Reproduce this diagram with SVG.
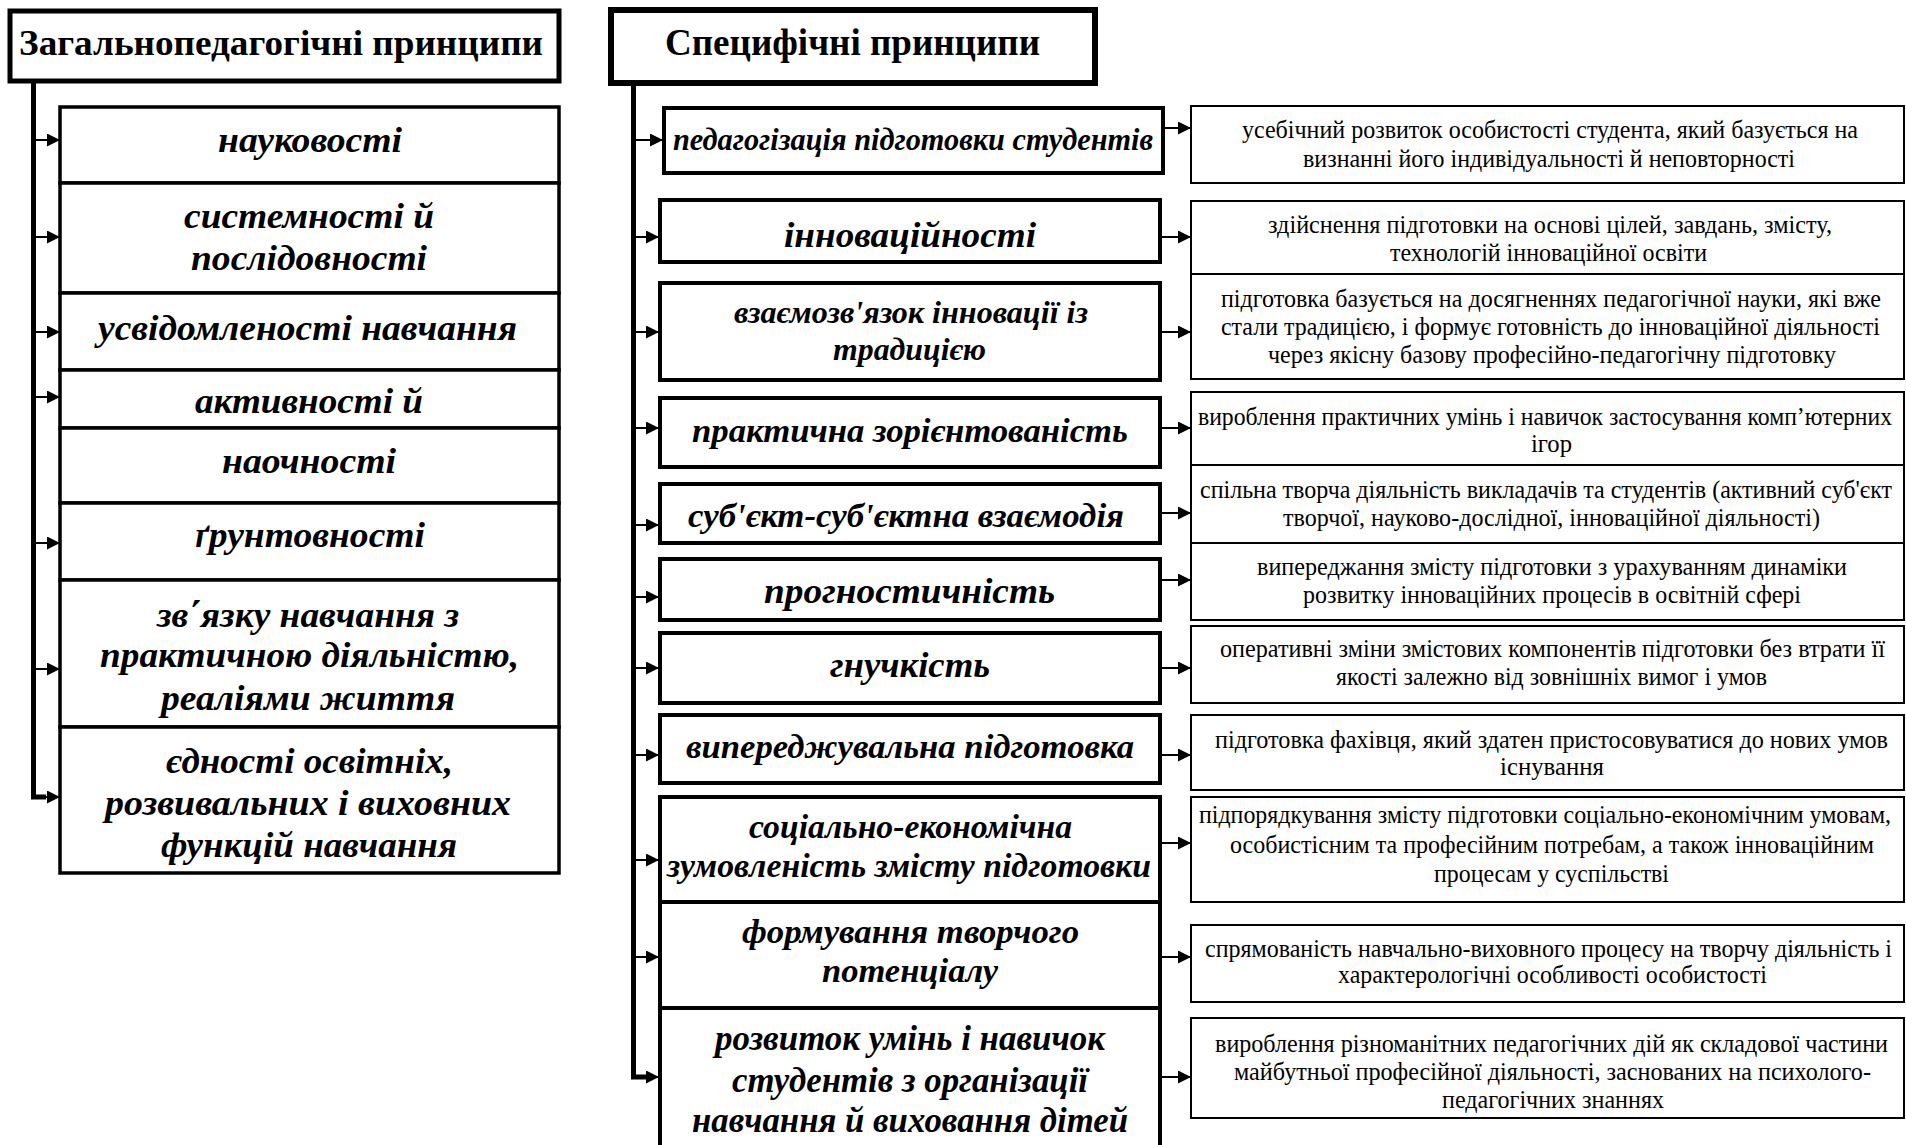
<svg xmlns="http://www.w3.org/2000/svg" width="1906" height="1145" viewBox="0 0 1906 1145">
<defs>
<marker id="ah" viewBox="0 0 10 10" refX="10" refY="5" markerWidth="15" markerHeight="13" markerUnits="userSpaceOnUse" orient="auto">
<path d="M0,0 L10,5 L0,10 z" fill="#000"/>
</marker>
</defs>
<style>
text{font-family:'Liberation Serif','DejaVu Serif',serif;fill:#000}
.h{font-weight:bold;font-size:36px}
.p{font-weight:bold;font-style:italic;font-size:36px}
.d{font-size:25px}
.hb{fill:#fff;stroke:#000;stroke-width:5}
.lb{fill:#fff;stroke:#000;stroke-width:3.5}
.mb{fill:#fff;stroke:#000;stroke-width:4}
.rb{fill:#fff;stroke:#000;stroke-width:2}
.trunk{fill:none;stroke:#000;stroke-width:5}
.arr{fill:none;stroke:#000;stroke-width:2;marker-end:url(#ah)}
</style>
<rect width="1906" height="1145" fill="#fff"/>

<g id="connectors">
<path class="trunk" d="M33.5,82 V797 H46"/>
<path class="trunk" d="M633.5,84 V1077 H646"/>
<line class="arr" x1="33" y1="140" x2="60" y2="140"/>
<line class="arr" x1="33" y1="237" x2="60" y2="237"/>
<line class="arr" x1="33" y1="332" x2="60" y2="332"/>
<line class="arr" x1="33" y1="397" x2="60" y2="397"/>
<line class="arr" x1="33" y1="543" x2="60" y2="543"/>
<line class="arr" x1="33" y1="669" x2="60" y2="669"/>
<line class="arr" x1="33" y1="797" x2="60" y2="797"/>
<line class="arr" x1="633" y1="140" x2="663" y2="140"/>
<line class="arr" x1="633" y1="237" x2="659" y2="237"/>
<line class="arr" x1="633" y1="332" x2="659" y2="332"/>
<line class="arr" x1="633" y1="428" x2="659" y2="428"/>
<line class="arr" x1="633" y1="525" x2="659" y2="525"/>
<line class="arr" x1="633" y1="597" x2="659" y2="597"/>
<line class="arr" x1="633" y1="668" x2="659" y2="668"/>
<line class="arr" x1="633" y1="755" x2="659" y2="755"/>
<line class="arr" x1="633" y1="860" x2="659" y2="860"/>
<line class="arr" x1="633" y1="957" x2="659" y2="957"/>
<line class="arr" x1="633" y1="1077" x2="659" y2="1077"/>
<line class="arr" x1="1160" y1="128" x2="1191" y2="128"/>
<line class="arr" x1="1162" y1="237" x2="1191" y2="237"/>
<line class="arr" x1="1162" y1="332" x2="1191" y2="332"/>
<line class="arr" x1="1162" y1="428" x2="1191" y2="428"/>
<line class="arr" x1="1162" y1="513" x2="1191" y2="513"/>
<line class="arr" x1="1162" y1="580" x2="1191" y2="580"/>
<line class="arr" x1="1162" y1="668" x2="1191" y2="668"/>
<line class="arr" x1="1162" y1="755" x2="1191" y2="755"/>
<line class="arr" x1="1162" y1="843" x2="1191" y2="843"/>
<line class="arr" x1="1162" y1="957" x2="1191" y2="957"/>
<line class="arr" x1="1162" y1="1077" x2="1191" y2="1077"/>
</g>

<g id="general-header">
<rect class="hb" x="10" y="11" width="549" height="70"/>
<text class="h" x="19" y="55" textLength="524" lengthAdjust="spacingAndGlyphs">Загальнопедагогічні принципи</text>
</g>

<g id="g1"><rect class="lb" x="60" y="107" width="499" height="76"/>
<text class="p" x="218" y="152" textLength="184" lengthAdjust="spacingAndGlyphs">науковості</text></g>
<g id="g2"><rect class="lb" x="60" y="183" width="499" height="110"/>
<text class="p" x="184" y="228" textLength="250" lengthAdjust="spacingAndGlyphs">системності й</text>
<text class="p" x="191" y="270" textLength="236" lengthAdjust="spacingAndGlyphs">послідовності</text></g>
<g id="g3"><rect class="lb" x="60" y="293" width="499" height="77"/>
<text class="p" x="98" y="340" textLength="419" lengthAdjust="spacingAndGlyphs">усвідомленості навчання</text></g>
<g id="g4"><rect class="lb" x="60" y="370" width="499" height="58"/>
<text class="p" x="195" y="413" textLength="228" lengthAdjust="spacingAndGlyphs">активності й</text></g>
<g id="g5"><rect class="lb" x="60" y="428" width="499" height="75"/>
<text class="p" x="222" y="473" textLength="174" lengthAdjust="spacingAndGlyphs">наочності</text></g>
<g id="g6"><rect class="lb" x="60" y="503" width="499" height="77"/>
<text class="p" x="195" y="547" textLength="230" lengthAdjust="spacingAndGlyphs">ґрунтовності</text></g>
<g id="g7"><rect class="lb" x="60" y="580" width="499" height="147"/>
<text class="p" x="157" y="627" textLength="302" lengthAdjust="spacingAndGlyphs">зв΄язку навчання з</text>
<text class="p" x="100" y="667" textLength="419" lengthAdjust="spacingAndGlyphs">практичною діяльністю,</text>
<text class="p" x="161" y="710" textLength="294" lengthAdjust="spacingAndGlyphs">реаліями життя</text></g>
<g id="g8"><rect class="lb" x="60" y="727" width="499" height="146"/>
<text class="p" x="166" y="773" textLength="287" lengthAdjust="spacingAndGlyphs">єдності освітніх,</text>
<text class="p" x="105" y="815" textLength="406" lengthAdjust="spacingAndGlyphs">розвивальних і виховних</text>
<text class="p" x="161" y="857" textLength="296" lengthAdjust="spacingAndGlyphs">функцій навчання</text></g>

<g id="specific-header">
<rect x="611" y="10" width="484" height="73" fill="#fff" stroke="#000" stroke-width="6"/>
<text class="h" x="665" y="55" style="font-size:38px" textLength="375" lengthAdjust="spacingAndGlyphs">Специфічні принципи</text>
</g>

<g id="s1"><rect class="mb" x="664" y="108" width="499" height="65"/>
<text class="p" x="673" y="150" style="font-size:32px" textLength="480" lengthAdjust="spacingAndGlyphs">педагогізація підготовки студентів</text></g>
<g id="s2"><rect class="mb" x="660" y="200" width="500" height="62"/>
<text class="p" x="784" y="247" textLength="252" lengthAdjust="spacingAndGlyphs">інноваційності</text></g>
<g id="s3"><rect class="mb" x="660" y="283" width="500" height="97"/>
<text class="p" x="734" y="323" style="font-size:31px" textLength="354" lengthAdjust="spacingAndGlyphs">взаємозв'язок інновації із</text>
<text class="p" x="833" y="360" style="font-size:31px" textLength="153" lengthAdjust="spacingAndGlyphs">традицією</text></g>
<g id="s4"><rect class="mb" x="660" y="398" width="500" height="69"/>
<text class="p" x="692" y="442" style="font-size:34px" textLength="436" lengthAdjust="spacingAndGlyphs">практична зорієнтованість</text></g>
<g id="s5"><rect class="mb" x="660" y="484" width="500" height="59"/>
<text class="p" x="688" y="527" style="font-size:34px" textLength="436" lengthAdjust="spacingAndGlyphs">суб'єкт-суб'єктна взаємодія</text></g>
<g id="s6"><rect class="mb" x="660" y="559" width="500" height="61"/>
<text class="p" x="764" y="603" textLength="291" lengthAdjust="spacingAndGlyphs">прогностичність</text></g>
<g id="s7"><rect class="mb" x="660" y="633" width="500" height="70"/>
<text class="p" x="830" y="677" textLength="160" lengthAdjust="spacingAndGlyphs">гнучкість</text></g>
<g id="s8"><rect class="mb" x="660" y="715" width="500" height="68"/>
<text class="p" x="686" y="758" style="font-size:34px" textLength="448" lengthAdjust="spacingAndGlyphs">випереджувальна підготовка</text></g>
<g id="s9"><rect class="mb" x="660" y="797" width="500" height="105"/>
<text class="p" x="749" y="838" style="font-size:34px" textLength="323" lengthAdjust="spacingAndGlyphs">соціально-економічна</text>
<text class="p" x="667" y="877" style="font-size:34px" textLength="484" lengthAdjust="spacingAndGlyphs">зумовленість змісту підготовки</text></g>
<g id="s10"><rect class="mb" x="660" y="902" width="500" height="106"/>
<text class="p" x="742" y="943" style="font-size:34px" textLength="337" lengthAdjust="spacingAndGlyphs">формування творчого</text>
<text class="p" x="822" y="982" style="font-size:34px" textLength="176" lengthAdjust="spacingAndGlyphs">потенціалу</text></g>
<g id="s11"><rect class="mb" x="660" y="1008" width="500" height="160"/>
<text class="p" x="715" y="1050" style="font-size:35px" textLength="390" lengthAdjust="spacingAndGlyphs">розвиток умінь і навичок</text>
<text class="p" x="732" y="1092" style="font-size:35px" textLength="356" lengthAdjust="spacingAndGlyphs">студентів з організації</text>
<text class="p" x="692" y="1132" style="font-size:35px" textLength="436" lengthAdjust="spacingAndGlyphs">навчання й виховання дітей</text></g>

<g id="r1"><rect class="rb" x="1191" y="106" width="713" height="77"/>
<text class="d" x="1242" y="138" textLength="616" lengthAdjust="spacingAndGlyphs">усебічний розвиток особистості студента, який базується на</text>
<text class="d" x="1303" y="167" textLength="492" lengthAdjust="spacingAndGlyphs">визнанні його індивідуальності й неповторності</text></g>
<g id="r2"><rect class="rb" x="1191" y="201" width="713" height="73"/>
<text class="d" x="1268" y="233" textLength="564" lengthAdjust="spacingAndGlyphs">здійснення підготовки на основі цілей, завдань, змісту,</text>
<text class="d" x="1390" y="261" textLength="317" lengthAdjust="spacingAndGlyphs">технологій інноваційної освіти</text></g>
<g id="r3"><rect class="rb" x="1191" y="274" width="713" height="105"/>
<text class="d" x="1221" y="307" textLength="660" lengthAdjust="spacingAndGlyphs">підготовка базується на досягненнях педагогічної науки, які вже</text>
<text class="d" x="1221" y="335" textLength="659" lengthAdjust="spacingAndGlyphs">стали традицією, і формує готовність до інноваційної діяльності</text>
<text class="d" x="1268" y="363" textLength="568" lengthAdjust="spacingAndGlyphs">через якісну базову професійно-педагогічну підготовку</text></g>
<g id="r4"><rect class="rb" x="1191" y="392" width="713" height="73"/>
<text class="d" x="1198" y="425" textLength="694" lengthAdjust="spacingAndGlyphs">вироблення практичних умінь і навичок застосування комп’ютерних</text>
<text class="d" x="1531" y="452" textLength="41" lengthAdjust="spacingAndGlyphs">ігор</text></g>
<g id="r5"><rect class="rb" x="1191" y="465" width="713" height="78"/>
<text class="d" x="1200" y="498" textLength="692" lengthAdjust="spacingAndGlyphs">спільна творча діяльність викладачів та студентів (активний суб'єкт</text>
<text class="d" x="1283" y="526" textLength="537" lengthAdjust="spacingAndGlyphs">творчої, науково-дослідної, інноваційної діяльності)</text></g>
<g id="r6"><rect class="rb" x="1191" y="543" width="713" height="77"/>
<text class="d" x="1257" y="575" textLength="590" lengthAdjust="spacingAndGlyphs">випереджання змісту підготовки з урахуванням динаміки</text>
<text class="d" x="1303" y="603" textLength="498" lengthAdjust="spacingAndGlyphs">розвитку інноваційних процесів в освітній сфері</text></g>
<g id="r7"><rect class="rb" x="1191" y="626" width="713" height="77"/>
<text class="d" x="1220" y="657" textLength="665" lengthAdjust="spacingAndGlyphs">оперативні зміни змістових компонентів підготовки без втрати її</text>
<text class="d" x="1336" y="685" textLength="431" lengthAdjust="spacingAndGlyphs">якості залежно від зовнішніх вимог і умов</text></g>
<g id="r8"><rect class="rb" x="1191" y="715" width="713" height="75"/>
<text class="d" x="1215" y="748" textLength="673" lengthAdjust="spacingAndGlyphs">підготовка фахівця, який здатен пристосовуватися до нових умов</text>
<text class="d" x="1500" y="775" textLength="104" lengthAdjust="spacingAndGlyphs">існування</text></g>
<g id="r9"><rect class="rb" x="1191" y="797" width="713" height="105"/>
<text class="d" x="1199" y="823" textLength="692" lengthAdjust="spacingAndGlyphs">підпорядкування змісту підготовки соціально-економічним умовам,</text>
<text class="d" x="1230" y="853" textLength="644" lengthAdjust="spacingAndGlyphs">особистісним та професійним потребам, а також інноваційним</text>
<text class="d" x="1434" y="882" textLength="235" lengthAdjust="spacingAndGlyphs">процесам у суспільстві</text></g>
<g id="r10"><rect class="rb" x="1191" y="925" width="713" height="77"/>
<text class="d" x="1205" y="957" textLength="687" lengthAdjust="spacingAndGlyphs">спрямованість навчально-виховного процесу на творчу діяльність і</text>
<text class="d" x="1338" y="983" textLength="429" lengthAdjust="spacingAndGlyphs">характерологічні особливості особистості</text></g>
<g id="r11"><rect class="rb" x="1191" y="1018" width="713" height="100"/>
<text class="d" x="1215" y="1052" textLength="673" lengthAdjust="spacingAndGlyphs">вироблення різноманітних педагогічних дій як складової частини</text>
<text class="d" x="1234" y="1080" textLength="637" lengthAdjust="spacingAndGlyphs">майбутньої професійної діяльності, заснованих на психолого-</text>
<text class="d" x="1442" y="1108" textLength="222" lengthAdjust="spacingAndGlyphs">педагогічних знаннях</text></g>
</svg>
